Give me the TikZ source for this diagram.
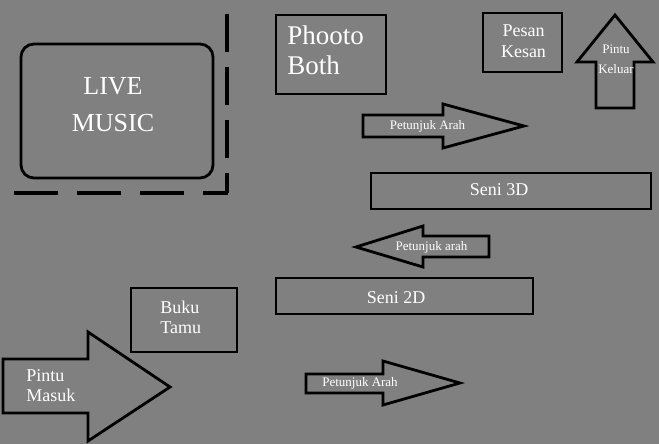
\documentclass[tikz,border=0pt]{standalone}
\usepackage{fontspec}
\setmainfont{Liberation Serif}
\definecolor{floor}{RGB}{128,128,128}
\begin{document}
\begin{tikzpicture}[x=1pt,y=-1pt,
    line width=2.8pt,line join=miter,
    wall/.style={draw=black,line width=3.2pt},
    lbl/.style={text=white,inner sep=0pt,align=center},
    big/.style={lbl,font=\fontsize{26}{37}\selectfont},
    mid/.style={lbl,font=\fontsize{18}{20.5}\selectfont},
    small/.style={lbl,font=\fontsize{13}{20}\selectfont}]
  \fill[floor] (0,0) rectangle (659,444);
  % stage corner
  \draw[wall,dash pattern=on 38pt off 15pt] (227,14) -- (227,193);
  \draw[wall,dash pattern=on 44pt off 19pt] (14,193) -- (228,193);
  \draw[rounded corners=13pt] (21,44) rectangle (213,178);
  \node[big] (live) at (113,104.5) {LIVE\\MUSIC};
  % booths
  \draw (276,15) rectangle (386,94);
  \node[lbl,align=left,anchor=west,font=\fontsize{27}{30}\selectfont] (photo) at (286,50) {Phooto\\Both};
  \draw (483,13) rectangle (562,72);
  \node[mid] (pesan) at (523.5,41) {Pesan\\Kesan};
  \draw (371,173) rectangle (651,209);
  \node[mid,anchor=base] (seni3d) at (499,195) {Seni 3D};
  \draw (276,278) rectangle (533,314);
  \node[mid,anchor=base] (seni2d) at (396,303) {Seni 2D};
  \draw (131,288) rectangle (237,352);
  \node[mid,align=left,anchor=west] (buku) at (159,317.5) {Buku\\Tamu};
  % doors
  \draw (615,15) -- (653,62) -- (634,62) -- (634,108) -- (596,108) -- (596,62) -- (577,62) -- cycle;
  \node[small] (keluar) at (616,59.5) {Pintu\\Keluar};
  \draw (3,359) -- (88,359) -- (88,332) -- (170,387) -- (88,441) -- (88,413) -- (3,413) -- cycle;
  \node[mid,align=left,anchor=west] (masuk) at (25,385.5) {Pintu\\Masuk};
  % signs
  \draw (363,115) -- (443,115) -- (443,104) -- (524,126) -- (443,148) -- (443,137) -- (363,137) -- cycle;
  \node[small,anchor=base] (arah1) at (427.5,129.5) {Petunjuk Arah};
  \draw (356,247) -- (423,226) -- (423,236) -- (489,236) -- (489,257) -- (423,257) -- (423,267) -- cycle;
  \node[small,anchor=base] (arah2) at (431.5,250.5) {Petunjuk arah};
  \draw (306,374) -- (383,374) -- (383,361) -- (460,383) -- (383,405) -- (383,393) -- (306,393) -- cycle;
  \node[small,anchor=base] (arah3) at (360,386) {Petunjuk Arah};
\end{tikzpicture}
\end{document}
